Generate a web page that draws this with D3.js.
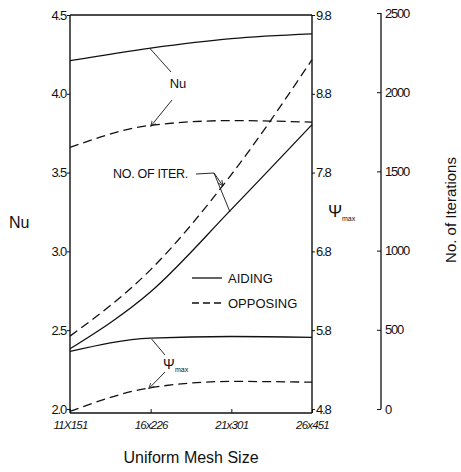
<!DOCTYPE html>
<html>
<head>
<meta charset="utf-8">
<script src="https://cdn.jsdelivr.net/npm/d3@7"></script>
<style>
  body { margin: 0; background: #fff; }
  svg text { font-family: "Liberation Sans", Arial, sans-serif; fill: #111; }
</style>
</head>
<body>
<div id="chart"></div>
<script>
// mesh sizes along the x axis
const meshes = ["11X151", "16x226", "21x301", "26x451"];

// Nu (left axis)
const nuAiding = [4.21, 4.29, 4.35, 4.38];
const nuOpposing = [3.66, 3.80, 3.83, 3.82];

// psi max (middle axis)
const psiAiding = [5.53, 5.70, 5.72, 5.71];
const psiOpposing = [4.77, 5.07, 5.15, 5.14];

// number of iterations (far right axis)
const iterAiding = [380, 740, 1260, 1795];
const iterOpposing = [460, 880, 1480, 2205];

const nuTicks = [2.0, 2.5, 3.0, 3.5, 4.0, 4.5];
const psiTicks = [4.8, 5.8, 6.8, 7.8, 8.8, 9.8];
const iterTicks = [0, 500, 1000, 1500, 2000, 2500];

const svg = d3.select("#chart")
    .append("svg")
    .attr("width", 461)
    .attr("height", 472);

const x = d3.scalePoint().domain(meshes).range([70, 312]);
const yNu = d3.scaleLinear().domain([2.0, 4.5]).range([409, 15]);
const yPsi = d3.scaleLinear().domain([4.8, 9.8]).range([409, 15]);
const yIt = d3.scaleLinear().domain([0, 2500]).range([409, 13]);

const ink = "#111";

// arrowhead for the leader lines
svg.append("defs").append("marker")
    .attr("id", "arr")
    .attr("viewBox", "0 0 10 10")
    .attr("refX", 9).attr("refY", 5)
    .attr("markerWidth", 7).attr("markerHeight", 7)
    .attr("orient", "auto")
    .append("path")
    .attr("d", "M0,1 L9,5 L0,9")
    .attr("fill", "none")
    .attr("stroke", ink)
    .attr("stroke-width", 1.2);

// frame: top line and bottom axis
svg.append("line").attr("x1", 70).attr("x2", 312).attr("y1", 15).attr("y2", 15)
    .attr("stroke", ink).attr("stroke-width", 1.3);

const xAxis = svg.append("g")
    .attr("transform", "translate(0,413)")
    .call(d3.axisBottom(x).tickSize(-4).tickPadding(7));
xAxis.select(".domain").attr("d", "M70,0H312").attr("stroke", ink).attr("stroke-width", 1.4);
xAxis.selectAll("line").attr("stroke", ink);
xAxis.selectAll("text")
    .attr("font-size", 11.5)
    .attr("font-style", "italic")
    .attr("letter-spacing", -0.8)
    .attr("fill", ink)
    .attr("dy", "0.75em");

// left Nu axis
const leftAxis = svg.append("g")
    .attr("transform", "translate(70,0)")
    .call(d3.axisLeft(yNu).tickValues(nuTicks).tickFormat(d3.format(".1f")).tickSize(3).tickPadding(1).tickSizeOuter(0));
leftAxis.select(".domain").attr("d", "M0,15V413").attr("stroke", ink).attr("stroke-width", 1.4);
leftAxis.selectAll("line").attr("stroke", ink);
leftAxis.selectAll("text").attr("font-size", 13).attr("letter-spacing", -1.2).attr("fill", ink);

// psi axis on the right edge of the box
const psiAxis = svg.append("g")
    .attr("transform", "translate(312,0)")
    .call(d3.axisRight(yPsi).tickValues(psiTicks).tickFormat(d3.format(".1f")).tickSize(3).tickPadding(1).tickSizeOuter(0));
psiAxis.select(".domain").attr("d", "M0,15V413").attr("stroke", ink).attr("stroke-width", 1.4);
psiAxis.selectAll("line").attr("stroke", ink);
psiAxis.selectAll("text").attr("font-size", 13).attr("letter-spacing", -1.2).attr("fill", ink);

// iterations axis, ticks on the left, labels on the right
const itAxis = svg.append("g")
    .attr("transform", "translate(381,0)")
    .call(d3.axisRight(yIt).tickValues(iterTicks).tickFormat(d3.format("d")).tickSize(0).tickPadding(4));
itAxis.select(".domain").attr("d", "M0,13V409").attr("stroke", ink).attr("stroke-width", 1.3);
itAxis.selectAll(".tick line").attr("x1", -4).attr("x2", 0).attr("stroke", ink);
itAxis.selectAll("text").attr("font-size", 13).attr("letter-spacing", -1.2).attr("fill", ink);

// curves
const series = [
    { vals: nuAiding, y: yNu, dash: null },
    { vals: nuOpposing, y: yNu, dash: "9,5" },
    { vals: psiAiding, y: yPsi, dash: null },
    { vals: psiOpposing, y: yPsi, dash: "9,5" },
    { vals: iterAiding, y: yIt, dash: null },
    { vals: iterOpposing, y: yIt, dash: "9,5" }
];

svg.selectAll("path.curve")
    .data(series)
    .enter().append("path")
    .attr("class", "curve")
    .attr("d", s => d3.line()
        .x((d, i) => x(meshes[i]))
        .y(d => s.y(d))
        .curve(d3.curveMonotoneX)(s.vals))
    .attr("fill", "none")
    .attr("stroke", ink)
    .attr("stroke-width", 1.3)
    .attr("stroke-dasharray", s => s.dash);

// annotations with leader lines
function leader(x1, y1, x2, y2, arrow) {
    svg.append("line")
        .attr("x1", x1).attr("y1", y1).attr("x2", x2).attr("y2", y2)
        .attr("stroke", ink).attr("stroke-width", 0.9)
        .attr("marker-end", arrow ? "url(#arr)" : null);
}

// Nu label
svg.append("text").attr("x", 178).attr("y", 88).attr("text-anchor", "middle")
    .attr("font-size", 13).text("Nu");
leader(x(meshes[1]) - 1, yNu(nuAiding[1]), 171, 72, false);
leader(172, 100, x(meshes[1]), yNu(nuOpposing[1]) + 1, true);

// number of iterations label
svg.append("text").attr("x", 113).attr("y", 178)
    .attr("font-size", 12.5).attr("letter-spacing", -0.3).text("NO. OF ITER.");
leader(196, 174, 214, 173, false);
leader(214, 173, 223, 186, true);
leader(214, 173, 230, 212, false);

// psi max label
svg.append("text").attr("x", 163).attr("y", 369).attr("font-size", 14).text("\u03A8");
svg.append("text").attr("x", 175).attr("y", 372).attr("font-size", 7).text("max");
leader(x(meshes[1]) + 1, yPsi(psiAiding[1]) + 1, 165, 355, false);
leader(165, 372, x(meshes[1]) - 2, yPsi(psiOpposing[1]) + 1, true);

// legend
svg.append("line").attr("x1", 192).attr("x2", 222).attr("y1", 278).attr("y2", 278)
    .attr("stroke", ink).attr("stroke-width", 1.3);
svg.append("text").attr("x", 228).attr("y", 283).attr("font-size", 13).text("AIDING");
svg.append("line").attr("x1", 192).attr("x2", 222).attr("y1", 303).attr("y2", 303)
    .attr("stroke", ink).attr("stroke-width", 1.3).attr("stroke-dasharray", "7,4");
svg.append("text").attr("x", 228).attr("y", 308).attr("font-size", 13).text("OPPOSING");

// axis titles
svg.append("text").attr("x", 9).attr("y", 228).attr("font-size", 16).text("Nu");
svg.append("text").attr("x", 328).attr("y", 217).attr("font-size", 17).text("\u03A8");
svg.append("text").attr("x", 342).attr("y", 221).attr("font-size", 7).text("max");
svg.append("text")
    .attr("transform", "translate(456,210) rotate(-90)")
    .attr("text-anchor", "middle")
    .attr("font-size", 15)
    .text("No. of Iterations");
svg.append("text").attr("x", 191).attr("y", 463).attr("text-anchor", "middle")
    .attr("font-size", 16).text("Uniform Mesh Size");
</script>
</body>
</html>
